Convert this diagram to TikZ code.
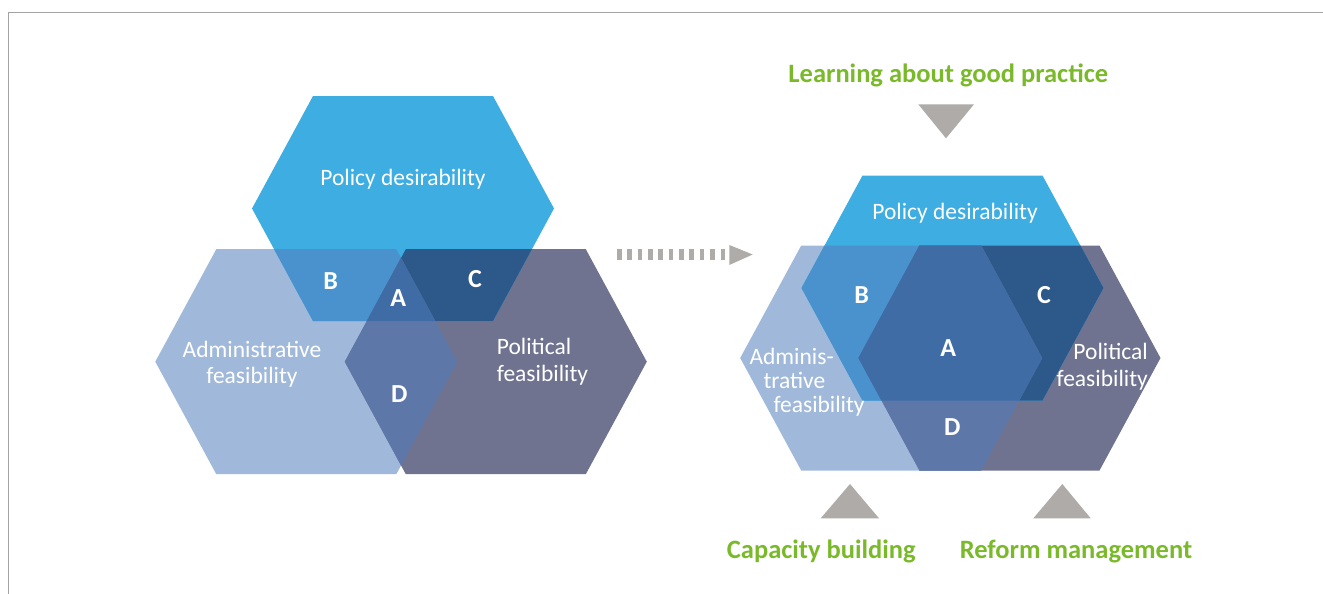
\documentclass[tikz,border=0pt]{standalone}
\usepackage{fontspec}
\setmainfont{Carlito}
\definecolor{polcol}{HTML}{3DADE2}
\definecolor{admcol}{HTML}{A0B9DA}
\definecolor{fcol}{HTML}{6F7390}
\definecolor{Bcol}{HTML}{4A92CD}
\definecolor{Ccol}{HTML}{2D588A}
\definecolor{Acol}{HTML}{3F6CA5}
\definecolor{Dcol}{HTML}{5D78A8}
\definecolor{greencol}{HTML}{7AB929}
\definecolor{tricol}{HTML}{AEABA8}
\definecolor{framecol}{HTML}{A3A3A3}
\newcommand{\hexshape}{(-151,0) -- (-90,-112.5) -- (90,-112.5) -- (151,0) -- (90,112.5) -- (-90,112.5) -- cycle}
\begin{document}
\begin{tikzpicture}[x=1pt,y=-1pt,
  lbl/.style={text=white,inner sep=0pt,font=\fontsize{23.5}{26.5}\selectfont},
  letter/.style={text=white,inner sep=0pt,font=\fontsize{26}{28}\selectfont\bfseries},
  greenlbl/.style={text=greencol,inner sep=0pt,font=\fontsize{26.5}{28}\selectfont\bfseries},
  tri/.style={fill=tricol},
  dashbar/.style={draw=tricol,line width=10.7pt,dash pattern=on 4.5pt off 5.85pt}]
\useasboundingbox (0,0) rectangle (1323,594);
% frame
\draw[framecol,line width=1.5pt] (8.5,594) -- (8.5,12.5) -- (1323,12.5);
% ---------- left diagram ----------
\fill[admcol,shift={(306.3,361.7)}] \hexshape;
\fill[fcol,shift={(495.8,361.7)}] \hexshape;
\fill[polcol,shift={(403,208.5)}] \hexshape;
\begin{scope}
  \clip[shift={(403,208.5)}] \hexshape;
  \fill[Bcol,shift={(306.3,361.7)}] \hexshape;
  \fill[Ccol,shift={(495.8,361.7)}] \hexshape;
\end{scope}
\begin{scope}
  \clip[shift={(306.3,361.7)}] \hexshape;
  \fill[Dcol,shift={(495.8,361.7)}] \hexshape;
\end{scope}
\begin{scope}
  \clip[shift={(403,208.5)}] \hexshape;
  \clip[shift={(306.3,361.7)}] \hexshape;
  \fill[Acol,shift={(495.8,361.7)}] \hexshape;
\end{scope}
\node[lbl,anchor=base] (pd1) at (403,185) {Policy desirability};
\node[lbl,anchor=base,align=center] (ad1) at (252,383.5) {Administrative\\feasibility};
\node[lbl,anchor=base west,align=left] (pf1) at (496.7,381) {Political\\feasibility};
\node[letter] (b1) at (330.7,280.7) {B};
\node[letter] (c1) at (475,279) {C};
\node[letter] (a1) at (398.3,298.3) {A};
\node[letter] (d1) at (399.3,394) {D};
% ---------- arrow ----------
\coordinate (arS) at (617,254.5);
\coordinate (arE) at (725,254.5);
\draw[dashbar] (arS) -- (arE);
\fill[tri] (729.3,245) -- (752.7,254.5) -- (729.3,265) -- cycle;
% ---------- right diagram ----------
\fill[admcol,shift={(891.2,358)}] \hexshape;
\fill[fcol,shift={(1009.5,358)}] \hexshape;
\fill[polcol,shift={(952.5,288)}] \hexshape;
\begin{scope}
  \clip[shift={(952.5,288)}] \hexshape;
  \fill[Bcol,shift={(891.2,358)}] \hexshape;
  \fill[Ccol,shift={(1009.5,358)}] \hexshape;
\end{scope}
\begin{scope}
  \clip[shift={(891.2,358)}] \hexshape;
  \fill[Dcol,shift={(1009.5,358)}] \hexshape;
\end{scope}
\begin{scope}
  \clip[shift={(952.5,288)}] \hexshape;
  \clip[shift={(891.2,358)}] \hexshape;
  \fill[Acol,shift={(1009.5,358)}] \hexshape;
\end{scope}
\node[lbl,anchor=base] (pd2) at (955,219) {Policy desirability};
\node[lbl,anchor=base west,align=left,font=\fontsize{23.5}{24}\selectfont] (ad2) at (749.3,412) {Adminis-\\\hspace*{14pt}trative\\\hspace*{24pt}feasibility};
\node[lbl,anchor=base east,align=right] (pf2) at (1148,386) {Political\\feasibility};
\node[letter] (b2) at (861.7,295) {B};
\node[letter] (c2) at (1044,295) {C};
\node[letter] (a2) at (948.3,347.7) {A};
\node[letter] (d2) at (952.3,426.7) {D};
% ---------- influences ----------
\node[greenlbl,anchor=base] (learn) at (948.3,82) {Learning about good practice};
\node[greenlbl,anchor=base] (cap) at (821.3,558.3) {Capacity building};
\node[greenlbl,anchor=base] (ref) at (1076,558.3) {Reform management};
\fill[tri] (918.3,104.3) -- (974,104.3) -- (946,138.3) -- cycle;
\fill[tri] (820.7,518.3) -- (879,518.3) -- (850,484) -- cycle;
\fill[tri] (1033.3,518.3) -- (1090.7,518.3) -- (1062.3,484) -- cycle;
\end{tikzpicture}
\end{document}
